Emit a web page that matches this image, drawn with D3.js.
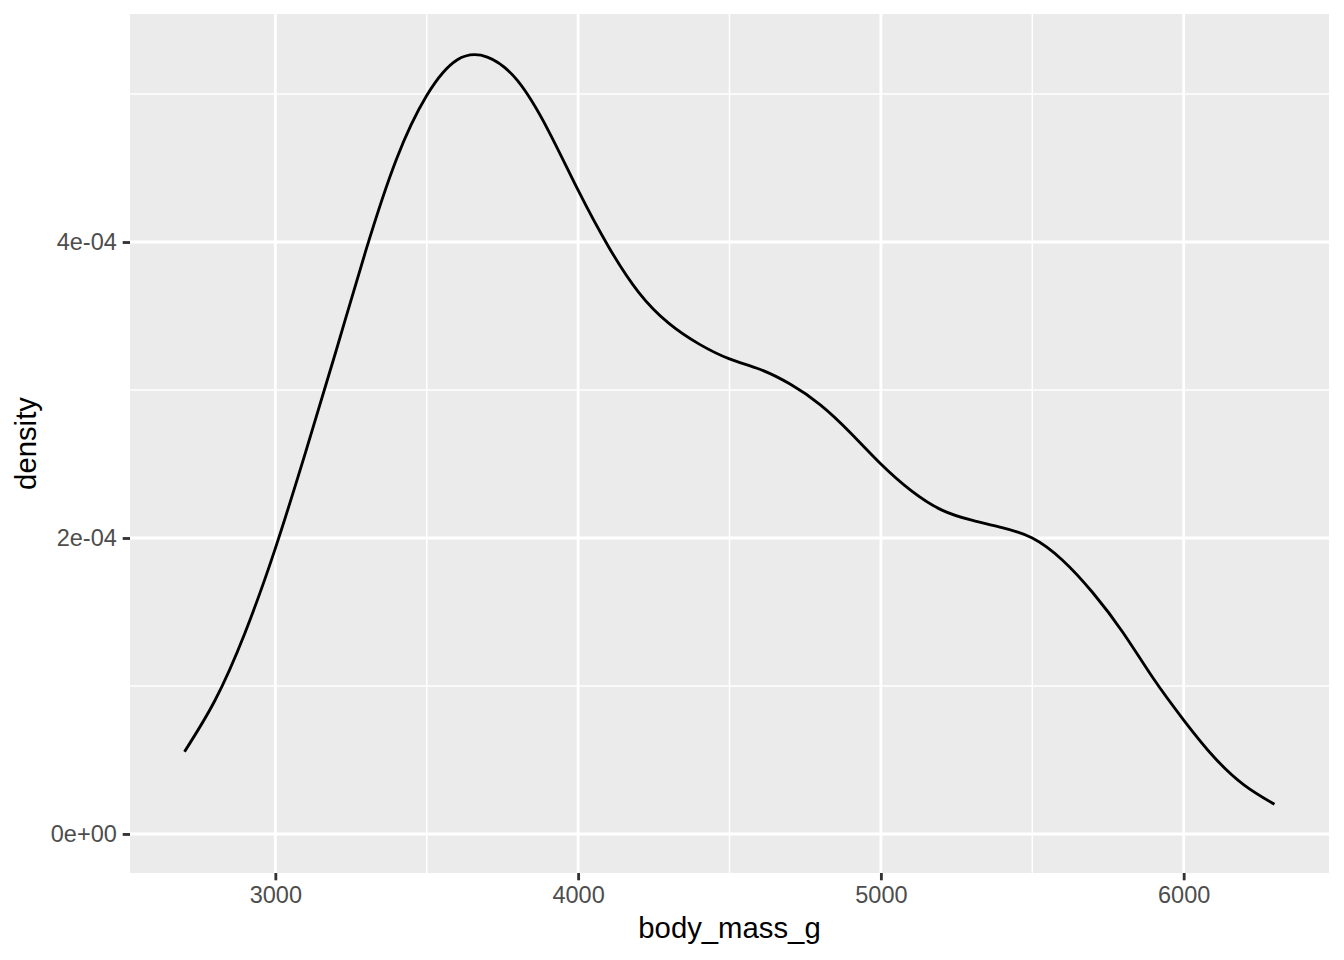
<!DOCTYPE html>
<html>
<head>
<meta charset="utf-8">
<script src="https://cdn.jsdelivr.net/npm/d3@7"></script>
<style>
  html, body { margin: 0; padding: 0; background: #ffffff; }
  svg { display: block; }
  text { font-family: "Liberation Sans", Arial, Helvetica, sans-serif; }
</style>
</head>
<body>
<svg id="chart" width="1344" height="960"></svg>
<script>
// ---- data ----
const massValues = [2700, 2800, 2900, 3000, 3100, 3200, 3300, 3400, 3500, 3600, 3700, 3800, 3900,
  4000, 4100, 4200, 4300, 4400, 4500, 4600, 4700, 4800, 4900, 5000, 5100, 5200, 5300, 5400,
  5500, 5600, 5700, 5800, 5900, 6000, 6100, 6200, 6300];
const densityValues = [0.556e-4, 0.90e-4, 1.36e-4, 1.93e-4, 2.58e-4, 3.26e-4, 3.95e-4, 4.56e-4,
  4.99e-4, 5.23e-4, 5.25e-4, 5.09e-4, 4.76e-4, 4.35e-4, 3.97e-4, 3.66e-4, 3.45e-4, 3.31e-4,
  3.21e-4, 3.14e-4, 3.04e-4, 2.90e-4, 2.71e-4, 2.50e-4, 2.32e-4, 2.19e-4, 2.12e-4, 2.07e-4,
  2.00e-4, 1.85e-4, 1.63e-4, 1.36e-4, 1.05e-4, 0.77e-4, 0.52e-4, 0.33e-4, 0.20e-4];
const xTicks = [3000, 4000, 5000, 6000];
const xMinor = [3500, 4500, 5500];
const yTicks = [0, 2e-4, 4e-4];
const yTickLabels = ["0e+00", "2e-04", "4e-04"];
const yMinor = [1e-4, 3e-4, 5e-4];
const xTitle = "body_mass_g";
const yTitle = "density";
const yMaxDensity = 5.277e-4;

// ---- layout ----
const svg = d3.select("#chart");
const panel = { left: 130, right: 1329, top: 14, bottom: 873 };

const xMin = d3.min(massValues), xMax = d3.max(massValues);
const xPad = (xMax - xMin) * 0.05;
const x = d3.scaleLinear().domain([xMin - xPad, xMax + xPad]).range([panel.left, panel.right]);
const yPad = yMaxDensity * 0.05;
const y = d3.scaleLinear().domain([0 - yPad, yMaxDensity + yPad]).range([panel.bottom, panel.top]);

const major = 2.85, minor = 1.42;

// panel background
svg.append("rect")
  .attr("x", panel.left).attr("y", panel.top)
  .attr("width", panel.right - panel.left).attr("height", panel.bottom - panel.top)
  .attr("fill", "#EBEBEB");

const grid = svg.append("g");
// minor grid
grid.selectAll(".xminor").data(xMinor).join("line")
  .attr("x1", d => x(d)).attr("x2", d => x(d))
  .attr("y1", panel.top).attr("y2", panel.bottom)
  .attr("stroke", "#ffffff").attr("stroke-width", minor);
grid.selectAll(".yminor").data(yMinor).join("line")
  .attr("y1", d => y(d)).attr("y2", d => y(d))
  .attr("x1", panel.left).attr("x2", panel.right)
  .attr("stroke", "#ffffff").attr("stroke-width", minor);
// major grid
grid.selectAll(".xmajor").data(xTicks).join("line")
  .attr("x1", d => x(d)).attr("x2", d => x(d))
  .attr("y1", panel.top).attr("y2", panel.bottom)
  .attr("stroke", "#ffffff").attr("stroke-width", major);
grid.selectAll(".ymajor").data(yTicks).join("line")
  .attr("y1", d => y(d)).attr("y2", d => y(d))
  .attr("x1", panel.left).attr("x2", panel.right)
  .attr("stroke", "#ffffff").attr("stroke-width", major);

// density line
const pts = massValues.map((m, i) => [m, densityValues[i]]);
const line = d3.line().x(d => x(d[0])).y(d => y(d[1])).curve(d3.curveNatural);
svg.append("path")
  .attr("d", line(pts))
  .attr("fill", "none")
  .attr("stroke", "#000000")
  .attr("stroke-width", 2.85)
  .attr("stroke-linejoin", "round")
  .attr("stroke-linecap", "butt");

// axes
const tickLen = 7.3;
const xAxis = d3.axisBottom(x).tickValues(xTicks).tickSize(tickLen).tickPadding(5.9).tickFormat(d3.format("d"));
const gx = svg.append("g").attr("transform", `translate(0,${panel.bottom})`).call(xAxis);
gx.select(".domain").remove();
gx.selectAll(".tick line").attr("stroke", "#333333").attr("stroke-width", major);
gx.selectAll(".tick text").attr("fill", "#4D4D4D").attr("font-size", "23.5px")
  .attr("font-family", "Liberation Sans, Arial, sans-serif");

const yAxis = d3.axisLeft(y).tickValues(yTicks).tickSize(tickLen).tickPadding(5.9)
  .tickFormat((d, i) => yTickLabels[i]);
const gy = svg.append("g").attr("transform", `translate(${panel.left},0)`).call(yAxis);
gy.select(".domain").remove();
gy.selectAll(".tick line").attr("stroke", "#333333").attr("stroke-width", major);
gy.selectAll(".tick text").attr("fill", "#4D4D4D").attr("font-size", "23.5px")
  .attr("font-family", "Liberation Sans, Arial, sans-serif");

// titles
svg.append("text")
  .attr("x", (panel.left + panel.right) / 2).attr("y", 938)
  .attr("text-anchor", "middle").attr("font-size", "29.3px").attr("fill", "#000000")
  .text(xTitle);
svg.append("text")
  .attr("transform", `translate(36,${(panel.top + panel.bottom) / 2}) rotate(-90)`)
  .attr("text-anchor", "middle").attr("font-size", "29.3px").attr("fill", "#000000")
  .text(yTitle);
</script>
</body>
</html>
